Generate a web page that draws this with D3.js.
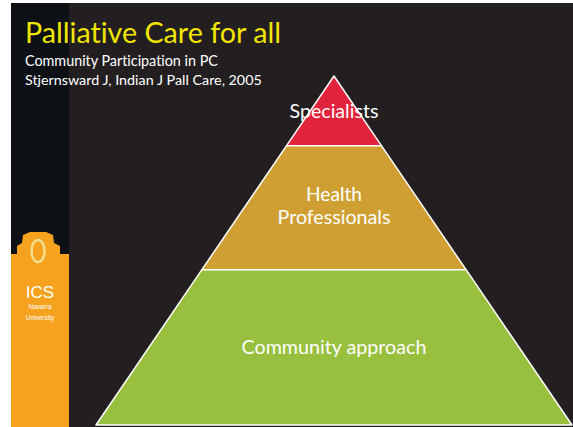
<!DOCTYPE html>
<html><head><meta charset="utf-8">
<script src="https://cdn.jsdelivr.net/npm/d3@7"></script>
<style>
html,body{margin:0;padding:0;background:#fff;}
svg{display:block;}
text{font-family:Lato,"Open Sans",sans-serif;font-variant-ligatures:none;font-feature-settings:"liga" 0;}
</style></head>
<body>
<svg id="c" width="573" height="427"></svg>
<script>
// Data
const layers = ["Specialists", "Health Professionals", "Community approach"];
const layerBreaks = [0, 0.2, 0.555, 1];   // cumulative share of pyramid height
const layerColors = ["#e1243b", "#cf9f34", "#98bf3e"];
const layerLabelLines = [["Specialists"], ["Health", "Professionals"], ["Community approach"]];
const titleText = "Palliative Care for all";
const subtitleLines = ["Community Participation in PC", "Stjernsward J, Indian J Pall Care, 2005"];
const logoLines = ["ICS", "Navarra", "University"];

const svg = d3.select("#c");
const W = 573, H = 427;

// slide background
svg.append("rect").attr("x", 11).attr("y", 3).attr("width", W - 11).attr("height", H - 3).attr("fill", "#231f20");
svg.append("rect").attr("x", 11).attr("y", 3).attr("width", 58).attr("height", H - 3).attr("fill", "#0d1014");

// orange logo strip
const orange = "#f6a21f";
const logoPath = d3.path();
logoPath.moveTo(11, 254);
logoPath.lineTo(17, 254);
logoPath.lineTo(17, 246);
logoPath.lineTo(22, 243);
logoPath.lineTo(23, 235);
logoPath.lineTo(30, 232);
logoPath.lineTo(46, 232);
logoPath.lineTo(53, 235);
logoPath.lineTo(54, 243);
logoPath.lineTo(60, 246);
logoPath.lineTo(60, 254);
logoPath.lineTo(69, 254);
logoPath.lineTo(69, H);
logoPath.lineTo(11, H);
logoPath.closePath();
svg.append("path").attr("d", logoPath.toString()).attr("fill", orange);
svg.append("ellipse").attr("cx", 38).attr("cy", 251).attr("rx", 6.5).attr("ry", 11)
  .attr("fill", "none").attr("stroke", "#f3dc8a").attr("stroke-width", 2.5);

const logoFont = "'Liberation Sans', Arial, sans-serif";
svg.append("text").attr("x", 40).attr("y", 298).attr("text-anchor", "middle")
  .attr("fill", "#fff").attr("font-size", 17).style("font-family", logoFont).text(logoLines[0]);
svg.append("text").attr("x", 40).attr("y", 309).attr("text-anchor", "middle")
  .attr("fill", "#fff").attr("font-size", 6.5).style("font-family", logoFont).text(logoLines[1]);
svg.append("text").attr("x", 40).attr("y", 320).attr("text-anchor", "middle")
  .attr("fill", "#fff").attr("font-size", 6.5).style("font-family", logoFont).text(logoLines[2]);

// helper to fit text width
function fit(sel, target) {
  const n = sel.node();
  const w = n.getComputedTextLength();
  const fs = parseFloat(sel.attr("font-size"));
  sel.attr("font-size", fs * target / w);
}

// title
const t = svg.append("text").attr("x", 25).attr("y", 43).attr("fill", "#f2e600")
  .attr("font-size", 26).text(titleText);
fit(t, 256);
const s1 = svg.append("text").attr("x", 25).attr("y", 66).attr("fill", "#ffffff")
  .attr("font-size", 13).text(subtitleLines[0]);
fit(s1, 193);
const s2 = svg.append("text").attr("x", 25).attr("y", 85).attr("fill", "#ffffff")
  .attr("font-size", 13).text(subtitleLines[1]);
fit(s2, 237);

// pyramid scales
const apexX = 334;
const y = d3.scaleLinear().domain([0, 1]).range([76, 425]);
const halfW = d3.scaleLinear().domain([0, 1]).range([0, 238]);

const g = svg.append("g");
layers.forEach((name, i) => {
  const a = layerBreaks[i], b = layerBreaks[i + 1];
  const pts = [
    [apexX - halfW(a), y(a)], [apexX + halfW(a), y(a)],
    [apexX + halfW(b), y(b)], [apexX - halfW(b), y(b)]
  ];
  g.append("path").attr("d", d3.line()(pts) + "Z")
    .attr("fill", layerColors[i]).attr("stroke", "#ffffff").attr("stroke-width", 1.5)
    .attr("stroke-linejoin", "round");
});

// labels
const labelBaselines = [[118], [201, 224], [354]];
const labelWidths = [[89], [56, 113], [185]];
layerLabelLines.forEach((lines, i) => {
  lines.forEach((ln, j) => {
    const tx = svg.append("text").attr("x", apexX).attr("y", labelBaselines[i][j])
      .attr("text-anchor", "middle").attr("fill", "#ffffff").attr("font-size", 17).text(ln);
    fit(tx, labelWidths[i][j]);
  });
});
</script>
</body></html>
